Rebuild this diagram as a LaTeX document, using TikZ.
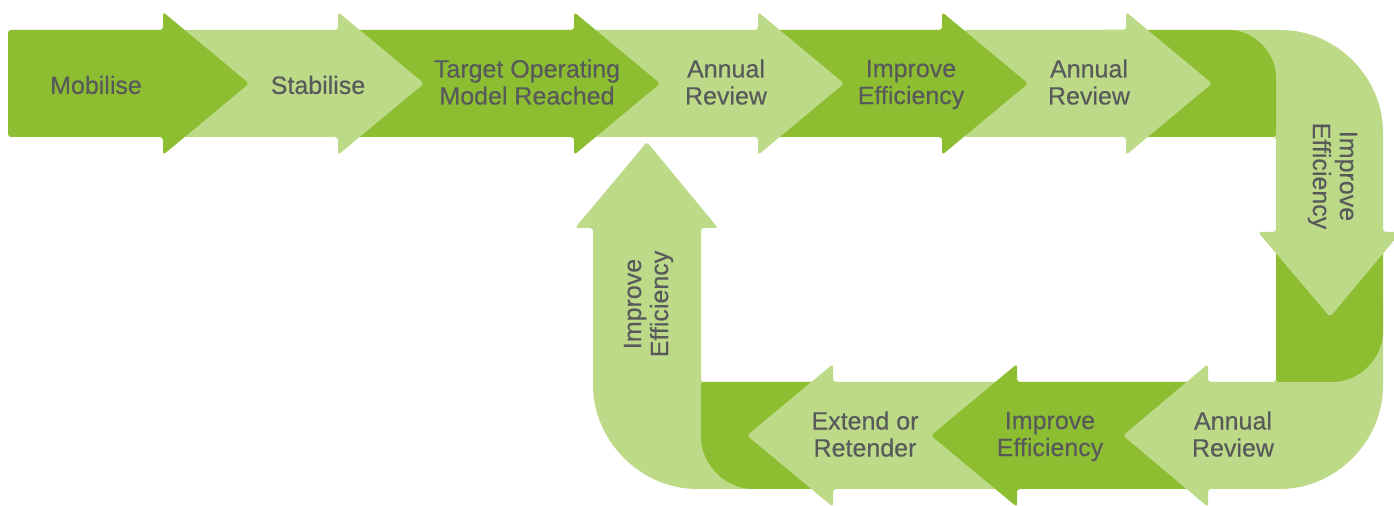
\documentclass[tikz,border=0pt]{standalone}
\usepackage{fontspec}
\setmainfont{Liberation Sans}
\newfontfamily\labelfont{Liberation Sans}[FakeBold=0.3]
\usepackage{tikz}

\definecolor{leaf}{RGB}{141,190,50}
\definecolor{pale}{RGB}{188,218,135}
\definecolor{ink}{RGB}{88,89,91}

\begin{document}
\begin{tikzpicture}[x=0.5pt, y=-0.5pt,
darkg/.style={fill=leaf, rounded corners=1.5pt},
lightg/.style={fill=pale, rounded corners=1.5pt},
lbl/.style={text=ink, align=center, inner sep=0pt,
	font=\labelfont\fontsize{12.5}{13.5}\selectfont,
	execute at begin node=\strut, execute at end node=\strut}]
\useasboundingbox (0,0) rectangle (1394,506);

% return leg, drawn from the back
\fill[lightg] (760,382) -- (760,489) -- (700,489)
	arc[start angle=90, end angle=180, radius=107]
	-- (593,228) -- (575,228) -- (647,142) -- (718,228) -- (701,228) -- (701,382) -- cycle;
\fill[darkg] (701,382) -- (840,382) -- (840,489) -- (756,489)
	arc[start angle=90, end angle=180, radius=55] -- cycle;
\foreach \xs/\xb/\col in {1017/833/lightg, 1208/1017/darkg}
	\fill[\col] (\xs,382) -- (\xb,382) -- (\xb,364) -- (\xb-86,435.5)
		-- (\xb,507) -- (\xb,489) -- (\xs,489) -- cycle;
\fill[lightg] (1276,300) -- (1383,300) -- (1383,383)
	arc[start angle=0, end angle=90, radius=106]
	-- (1208,489) -- (1208,507) -- (1123,435.5) -- (1208,364) -- (1208,382) -- (1276,382) -- cycle;

% the bend on the right
\fill[darkg] (1276,232) -- (1383,232) -- (1383,329)
	arc[start angle=0, end angle=90, radius=53] -- (1276,382) -- cycle;
\fill[lightg] (1150,30) -- (1278,30)
	arc[start angle=-90, end angle=0, radius=105]
	-- (1383,232) -- (1401,232) -- (1330,317) -- (1258,232) -- (1276,232) -- (1276,137) -- (1150,137) -- cycle;
\fill[darkg] (1100,30) -- (1226,30)
	arc[start angle=-90, end angle=0, radius=50] -- (1276,137) -- (1100,137) -- cycle;

% top row, last arrow first
\foreach \xs/\xb/\col in {963/1126/lightg, 758/942/darkg, 574/758/lightg,
	338/574/darkg, 163/338/lightg, 8/163/darkg}
	\fill[\col] (\xs,30) -- (\xb,30) -- (\xb,12) -- (\xb+86,83.5)
		-- (\xb,155) -- (\xb,137) -- (\xs,137) -- cycle;

\node[lbl] (mob) at (96,88.5) {Mobilise};
\node[lbl] (stab) at (318,88.5) {Stabilise};
\node[lbl] (tom) at (527,86) {Target Operating\\Model Reached};
\node[lbl] (rev1) at (726,86) {Annual\\Review};
\node[lbl] (eff1) at (911,86) {Improve\\Efficiency};
\node[lbl] (rev2) at (1089,86) {Annual\\Review};
\node[lbl, rotate=-90] (eff2) at (1331,176) {Improve\\Efficiency};
\node[lbl] (rev3) at (1233,438) {Annual\\Review};
\node[lbl] (eff3) at (1050,438) {Improve\\Efficiency};
\node[lbl] (ext) at (865,438) {Extend or\\Retender};
\node[lbl, rotate=90] (eff4) at (650,304) {Improve\\Efficiency};
\end{tikzpicture}
\end{document}
